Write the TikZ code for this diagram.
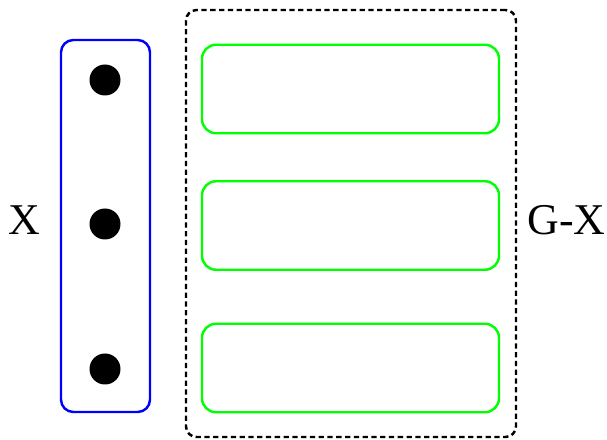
\documentclass[tikz,border=0pt]{standalone}
\usepackage{fontspec}
\setmainfont{Liberation Serif}
\usetikzlibrary{positioning}
\definecolor{setblue}{HTML}{0000FF}
\definecolor{rowgreen}{HTML}{00FF00}

\tikzset{
  vset/.style={draw=setblue, line width=1.4pt, rounded corners=7pt, minimum width=1.78cm, minimum height=7.44cm, inner sep=0pt},
  vertex/.style={circle, fill=black, minimum size=0.62cm, inner sep=0pt},
  rest/.style={draw=black, line width=1.4pt, dash pattern=on 3pt off 2pt, rounded corners=6pt, minimum width=6.6cm, minimum height=8.54cm, inner sep=0pt},
  part/.style={draw=rowgreen, line width=1.4pt, rounded corners=8pt, minimum width=5.94cm, minimum height=1.77cm, inner sep=0pt},
  setlabel/.style={font=\fontsize{25}{28}\selectfont, inner sep=0pt}
}

\begin{document}
\begin{tikzpicture}

\useasboundingbox (0,0) rectangle (12.14,8.8);

% Set X with its three vertices
\node[vset] (X) at (2.11,4.28) {};
\node[vertex] (v1) at (2.1,7.2) {};
\node[vertex] (v2) at (2.1,4.32) {};
\node[vertex] (v3) at (2.1,1.42) {};
\node[setlabel] (lx) at (0.48,4.4) {X};

% Rest of the graph
\node[rest] (GX) at (7.02,4.33) {};
\node[part] (p1) at (7.01,7.02) {};
\node[part] (p2) at (7.01,4.29) {};
\node[part] (p3) at (7.01,1.44) {};
\node[setlabel] (lgx) at (11.33,4.4) {G-X};

\end{tikzpicture}
\end{document}
